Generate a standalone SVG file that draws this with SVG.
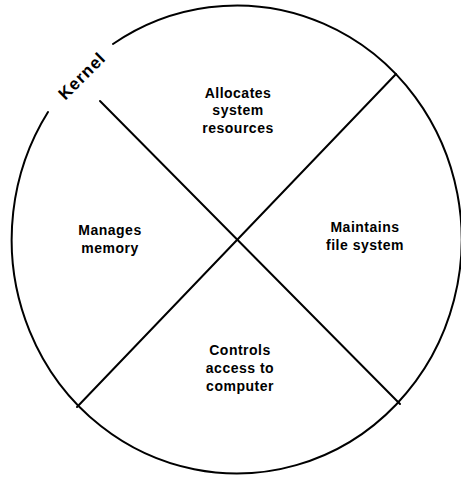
<svg xmlns="http://www.w3.org/2000/svg" width="461" height="478" viewBox="0 0 461 478">
<style>
.lbl{font-family:"Liberation Sans",Arial,sans-serif;font-weight:bold;font-size:14px;letter-spacing:0.5px;fill:#000;text-anchor:middle}
.ln{stroke:#000;stroke-width:2;fill:none;stroke-linecap:round}
</style>
<rect width="461" height="478" fill="#fff"/>
<g id="kernel">
<path class="ln" d="M113,44 A225,234 0 1 1 48,112" stroke-width="2.5"/>
<text class="lbl" style="font-size:17px;letter-spacing:1px" transform="translate(86,80) rotate(-45)">Kernel</text>
</g>
<g id="connectors">
<line class="ln" x1="100" y1="101" x2="400" y2="404"/>
<line class="ln" x1="396" y1="74" x2="77" y2="407"/>
</g>
<g id="allocates">
<text class="lbl" x="238" y="98">Allocates</text>
<text class="lbl" x="238" y="115">system</text>
<text class="lbl" x="238" y="133">resources</text>
</g>
<g id="manages">
<text class="lbl" x="110" y="235">Manages</text>
<text class="lbl" x="110" y="253">memory</text>
</g>
<g id="maintains">
<text class="lbl" x="365" y="232">Maintains</text>
<text class="lbl" x="365" y="250">file system</text>
</g>
<g id="controls">
<text class="lbl" x="240" y="355">Controls</text>
<text class="lbl" x="240" y="373">access to</text>
<text class="lbl" x="240" y="391">computer</text>
</g>
</svg>
